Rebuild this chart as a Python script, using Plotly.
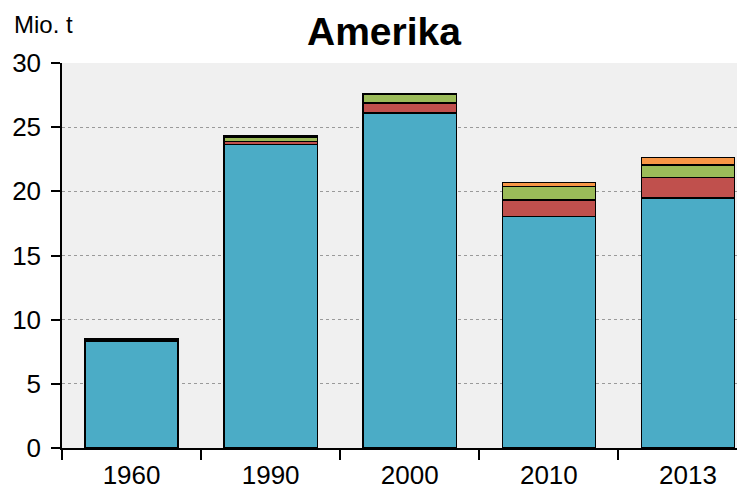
import plotly.graph_objects as go

years = ["1960", "1990", "2000", "2010", "2013"]
blue_vals = [8.3, 23.65, 26.1, 18.03, 19.5]
red_vals = [0.1, 0.25, 0.78, 1.3, 1.59]
green_vals = [0.1, 0.35, 0.68, 1.04, 0.98]
orange_vals = [0.02, 0.08, 0.05, 0.3, 0.57]

colors = ["#4BACC6", "#C0504D", "#9BBB59", "#F79646"]
series = [blue_vals, red_vals, green_vals, orange_vals]

fig = go.Figure()
for vals, col in zip(series, colors):
    fig.add_trace(go.Bar(
        x=years, y=vals, width=0.67,
        marker=dict(color=col, line=dict(color="black", width=1.5)),
        showlegend=False,
    ))

FONT = "Arial, Liberation Sans, sans-serif"
fig.update_layout(
    barmode="stack",
    width=737, height=484,
    margin=dict(l=54, r=0, t=55, b=44, autoexpand=False),
    paper_bgcolor="white",
    plot_bgcolor="#F0F0F0",
    font=dict(family=FONT, color="black"),
    xaxis=dict(
        type="category", range=[-0.5, 4.41], automargin=False,
        tickson="boundaries", ticks="outside", ticklen=10, tickwidth=1.5,
        tickcolor="black", showline=True, linecolor="black", linewidth=1.5,
        showgrid=False, tickfont=dict(size=26), fixedrange=True,
        ticklabelstandoff=3,
    ),
    yaxis=dict(
        range=[0, 30], dtick=5, ticks="outside", ticklen=9, tickwidth=1.5,
        tickcolor="black", showline=True, linecolor="black", linewidth=1.5,
        showgrid=True, gridcolor="#9A9A9A", gridwidth=1, griddash="dot",
        zeroline=False, tickfont=dict(size=26), ticklabelstandoff=5,
        automargin=False,
    ),
    annotations=[
        dict(text="<b>Amerika</b>", xref="paper", yref="paper", x=0.471, y=1.083,
             xanchor="center", yanchor="middle", showarrow=False,
             font=dict(size=39, family=FONT, color="black")),
        dict(text="Mio. t", xref="paper", yref="paper", x=-0.073, y=1.141,
             xanchor="left", yanchor="top", showarrow=False,
             font=dict(size=24, family=FONT, color="black")),
    ],
)

fig.write_html("out.html")
